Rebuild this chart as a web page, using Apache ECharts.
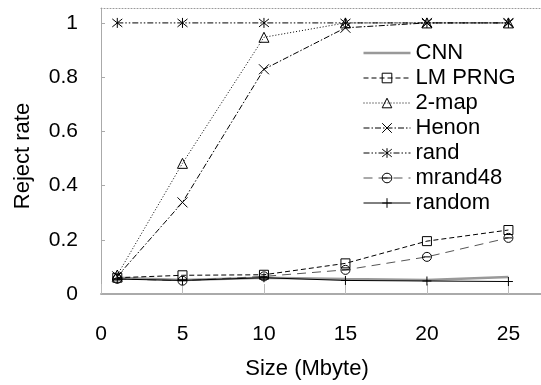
<!DOCTYPE html>
<html><head><meta charset="utf-8">
<script src="https://cdn.jsdelivr.net/npm/echarts@6/dist/echarts.min.js"></script>
<style>html,body{margin:0;padding:0;background:#fff}#c{width:541px;height:385px}</style>
</head><body><div id="c"></div>
<script>
const sizes = [1, 5, 10, 15, 20, 25];
const xTicks = [0, 5, 10, 15, 20, 25];
const yTicks = [0, 0.2, 0.4, 0.6, 0.8, 1];
const cnn     = [0.060, 0.052, 0.060, 0.055, 0.052, 0.063];
const lmprng  = [0.060, 0.069, 0.071, 0.113, 0.195, 0.236];
const map2    = [0.070, 0.482, 0.947, 1.000, 1.000, 1.000];
const henon   = [0.065, 0.338, 0.829, 0.982, 1.000, 1.000];
const randV   = [1.000, 1.000, 1.000, 1.000, 1.000, 1.000];
const mrand48 = [0.056, 0.049, 0.065, 0.089, 0.137, 0.207];
const randomV = [0.055, 0.050, 0.060, 0.050, 0.048, 0.046];
const names = ['CNN', 'LM PRNG', '2-map', 'Henon', 'rand', 'mrand48', 'random'];

const font = '"Liberation Sans", Arial, sans-serif';
const pts = v => sizes.map((x, i) => [x, v[i]]);
const hollow = {color: 'rgba(255,255,255,0)', borderColor: '#000', borderWidth: 1};

function line(name, data, lineStyle, symbol, symbolSize) {
  return {
    name, type: 'line', data: pts(data), symbol: symbol || 'none', symbolSize: symbolSize || 9,
    showSymbol: !!symbol, lineStyle, itemStyle: Object.assign({}, hollow), emphasis: {disabled: true},
    animation: false
  };
}

const chart = echarts.init(document.getElementById('c'));
chart.setOption({
  animation: false,
  grid: {left: 101, right: 0, top: 8, bottom: 88},
  legend: {
    orient: 'vertical', left: 363, top: 42, padding: 0, itemWidth: 47, itemHeight: 12, itemGap: 3,
    itemStyle: {borderWidth: 1},
    lineStyle: {width: 1},
    textStyle: {fontFamily: font, fontSize: 22, color: '#000', lineHeight: 20},
    data: names.map(n => n === 'CNN'
      ? {name: n, icon: 'path://M0 0H47V2.5H0Z', itemStyle: {color: '#999', borderWidth: 0}}
      : {name: n})
  },
  xAxis: [{
    type: 'value', min: 0, max: 27, interval: 1,
    name: 'Size (Mbyte)', nameLocation: 'middle', nameGap: 64,
    nameTextStyle: {fontFamily: font, fontSize: 22, color: '#000', padding: [0, 28, 0, 0]},
    axisLine: {lineStyle: {color: '#aaa', width: 2}},
    axisTick: {inside: true, length: 10, lineStyle: {color: '#bbb'}, customValues: xTicks},
    axisLabel: {fontFamily: font, fontSize: 21, color: '#000', margin: 30, customValues: xTicks},
    splitLine: {show: false}
  }, {
    type: 'value', position: 'top', min: 0, max: 27,
    axisLine: {show: true, lineStyle: {color: '#999', type: [1, 2]}},
    axisTick: {show: false}, axisLabel: {show: false}, splitLine: {show: false}
  }],
  yAxis: {
    type: 'value', min: 0, max: 1.055, interval: 0.2,
    name: 'Reject rate', nameLocation: 'middle', nameGap: 67,
    nameTextStyle: {fontFamily: font, fontSize: 22, color: '#000', padding: [0, 10, 0, 0]},
    axisLine: {show: true, lineStyle: {color: '#aaa', width: 1}},
    axisTick: {show: true, inside: true, length: 4, lineStyle: {color: '#aaa'}, customValues: yTicks},
    axisLabel: {fontFamily: font, fontSize: 21, color: '#000', margin: 23, customValues: yTicks},
    splitLine: {show: false}
  },
  series: [
    line(names[0], cnn, {color: '#999', width: 2.5}, null),
    line(names[1], lmprng, {color: '#000', width: 1, type: [5, 3]}, 'rect', 9),
    line(names[2], map2, {color: '#000', width: 1, type: [1, 2]}, 'triangle', 10),
    line(names[3], henon, {color: '#000', width: 1, type: [6, 2, 1.5, 2]}, 'path://M0 0L10 10M10 0L0 10', 10),
    line(names[4], randV, {color: '#000', width: 1, type: [6, 2, 1.5, 2, 1.5, 2]}, 'path://M0 1L10 9M10 1L0 9M5 0L5 10', 10),
    line(names[5], mrand48, {color: '#555', width: 1, type: [9, 6]}, 'path://M0 5A5 5 0 1 1 10 5A5 5 0 1 1 0 5ZM1 5L9 5', 9),
    line(names[6], randomV, {color: '#000', width: 1}, 'path://M5 0L5 10M0 5L10 5', 9)
  ]
});
</script></body></html>
